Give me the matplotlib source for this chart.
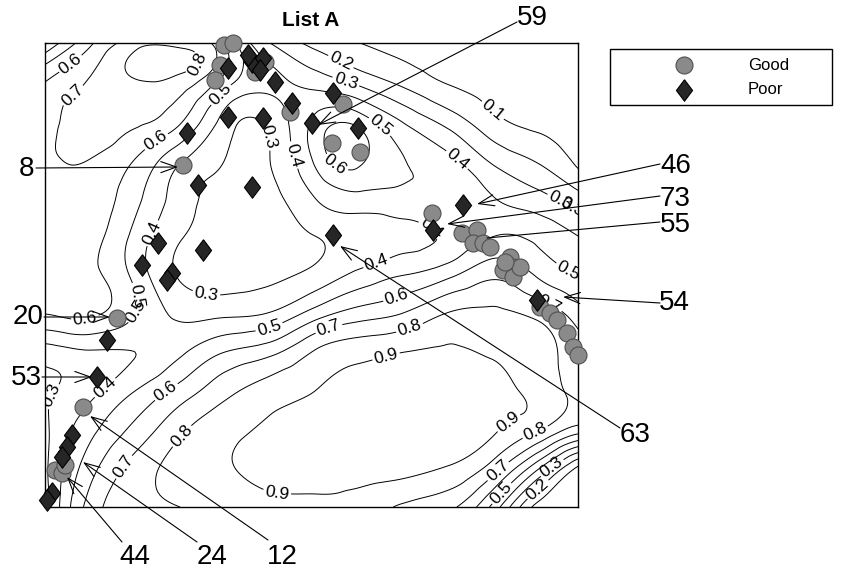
import numpy as np
import matplotlib
matplotlib.use("Agg")
import matplotlib.pyplot as plt
import matplotlib.tri as mtri
from matplotlib.patches import Rectangle

plt.rcParams['font.family'] = ['Liberation Sans', 'DejaVu Sans']

# ---------------- data (chart units; no axis ticks in original) ----------------
grid_x = [45, 90, 135, 180, 225, 270, 315, 360, 405, 450, 495, 540, 578]
grid_y = [43, 82, 120, 159, 198, 236, 275, 314, 352, 391, 430, 468, 507]
z_rows = [
    [0.30, 0.58, 0.76, 0.77, 0.60, 0.30, 0.17, 0.10, 0.07, 0.05, 0.04, 0.03, 0.02],
    [0.60, 0.71, 0.79, 0.76, 0.55, 0.42, 0.36, 0.27, 0.17, 0.09, 0.06, 0.04, 0.03],
    [0.64, 0.75, 0.72, 0.62, 0.36, 0.33, 0.52, 0.55, 0.38, 0.25, 0.12, 0.07, 0.04],
    [0.66, 0.70, 0.60, 0.42, 0.30, 0.30, 0.52, 0.62, 0.50, 0.42, 0.27, 0.18, 0.07],
    [0.65, 0.66, 0.53, 0.35, 0.26, 0.27, 0.40, 0.47, 0.47, 0.48, 0.40, 0.33, 0.24],
    [0.63, 0.64, 0.47, 0.31, 0.24, 0.25, 0.30, 0.33, 0.37, 0.42, 0.50, 0.47, 0.40],
    [0.62, 0.63, 0.47, 0.29, 0.26, 0.28, 0.33, 0.43, 0.50, 0.58, 0.68, 0.58, 0.50],
    [0.60, 0.62, 0.50, 0.38, 0.38, 0.41, 0.55, 0.65, 0.71, 0.81, 0.82, 0.77, 0.65],
    [0.35, 0.39, 0.40, 0.48, 0.60, 0.67, 0.81, 0.87, 0.90, 0.91, 0.89, 0.84, 0.74],
    [0.29, 0.37, 0.50, 0.64, 0.77, 0.85, 0.90, 0.93, 0.96, 0.95, 0.93, 0.86, 0.77],
    [0.28, 0.47, 0.63, 0.78, 0.87, 0.92, 0.96, 0.97, 0.97, 0.97, 0.91, 0.80, 0.65],
    [0.28, 0.56, 0.74, 0.84, 0.89, 0.93, 0.94, 0.94, 0.93, 0.89, 0.74, 0.40, 0.08],
    [0.25, 0.64, 0.77, 0.80, 0.84, 0.87, 0.88, 0.86, 0.78, 0.72, 0.45, 0.05, 0.02],
]
extra_x = [150, 185, 125, 160, 207, 70, 345]
extra_y = [62, 62, 66, 88, 62, 145, 150]
extra_z = [0.86, 0.83, 0.80, 0.77, 0.76, 0.73, 0.66]
levels = [0.1, 0.2, 0.3, 0.4, 0.5, 0.6, 0.7, 0.8, 0.9]

good_x = [224, 233, 220, 215, 255, 265, 290, 343, 332, 360, 183, 432,
          462, 477, 473, 483, 490, 510, 513, 503, 513, 520, 505,
          540, 550, 557, 567, 573, 578, 117, 83, 55, 62, 65]
good_y = [45, 43, 65, 80, 72, 62, 112, 104, 143, 152, 165, 213,
          233, 230, 243, 243, 247, 257, 267, 270, 277, 267, 262,
          307, 313, 320, 333, 347, 355, 318, 407, 470, 473, 465]

poor_x = [228, 252, 263, 260, 275, 248, 292, 333, 312, 358, 228, 263, 187,
          198, 252, 158, 203, 142, 172, 167, 107, 97, 463, 433, 333, 537,
          72, 67, 62, 52, 47]
poor_y = [68, 62, 58, 70, 82, 55, 103, 93, 123, 128, 117, 118, 133,
          185, 187, 243, 250, 265, 273, 280, 340, 377, 205, 230, 235, 300,
          435, 447, 457, 493, 500]

callout_ids = ["59", "8", "46", "73", "55", "54", "63", "20", "53", "44", "24", "12"]
callout_tx = [532, 26, 676, 675, 675, 674, 635, 28, 26, 135, 212, 282]
callout_ty = [18, 169, 166, 199, 225, 303, 435, 317, 378, 557, 557, 557]
line_sx = [517, 36, 660, 660, 660, 660, 620, 44, 42, 122, 197, 268]
line_sy = [22, 168, 164, 196, 222, 303, 428, 317, 377, 542, 542, 540]
arrow_x = [318, 178, 477, 447, 487, 563, 340, 110, 92, 67, 83, 90]
arrow_y = [125, 167, 204, 224, 238, 297, 246, 317, 377, 477, 462, 416]
arrow_head = [True, True, True, True, False, True, True, True, True, True, True, True]

label_pos = [(70, 63), (70, 92), (195, 62), (218, 92), (153, 137), (150, 232),
             (267, 137), (287, 157), (343, 57), (347, 78), (493, 110), (377, 130),
             (335, 165), (463, 153), (447, 200), (563, 195), (566, 214),
             (567, 273), (553, 297), (143, 295), (143, 313), (205, 303),
             (85, 318), (268, 323), (375, 258), (395, 292), (330, 332),
             (408, 323), (387, 360), (508, 422), (533, 427), (277, 493),
             (107, 390), (53, 397), (167, 393), (183, 437), (118, 463),
             (70, 462), (497, 470), (500, 492), (550, 465), (540, 492)]

# ---------------- figure ----------------
W, H = 846, 573
fig = plt.figure(figsize=(W / 100, H / 100), dpi=100)
ax = fig.add_axes([45 / W, (H - 507) / H, (578 - 45) / W, (507 - 43) / H])
ax.set_xlim(45, 578)
ax.set_ylim(507, 43)
ax.set_xticks([])
ax.set_yticks([])
for s in ax.spines.values():
    s.set_linewidth(1.0)

gx, gy = np.meshgrid(grid_x, grid_y)
px = np.concatenate([gx.ravel(), extra_x])
py = np.concatenate([gy.ravel(), extra_y])
pz = np.concatenate([np.array(z_rows).ravel(), extra_z])
tri = mtri.Triangulation(px, py)
refiner = mtri.UniformTriRefiner(tri)
interp = mtri.CubicTriInterpolator(tri, pz, kind='min_E')
tri_f, z_f = refiner.refine_field(pz, triinterpolator=interp, subdiv=4)
cs = ax.tricontour(tri_f, z_f, levels=levels, colors='black', linewidths=0.7)
ax.clabel(cs, inline=True, fontsize=12.5, fmt='%.1f', manual=label_pos, inline_spacing=2)

ax.scatter(good_x, good_y, s=150, marker='o', facecolor='#8a8a8a', edgecolor='#505050',
           linewidth=0.8, zorder=5, clip_on=False)
diamond = [(0, 1), (0.75, 0), (0, -1), (-0.75, 0), (0, 1)]
ax.scatter(poor_x, poor_y, s=240, marker=diamond, facecolor='#262626', edgecolor='black',
           linewidth=0.8, zorder=6, clip_on=False)

for lab, tx, ty, sx, sy, ex, ey, hd in zip(callout_ids, callout_tx, callout_ty, line_sx,
                                            line_sy, arrow_x, arrow_y, arrow_head):
    ax.text(tx, ty, lab, fontsize=20, ha='center', va='center', clip_on=False)
    style = '->,head_length=0.7,head_width=0.25' if hd else '-'
    ax.annotate('', xy=(ex, ey), xytext=(sx, sy),
                arrowprops=dict(arrowstyle=style, lw=0.8, color='black',
                                shrinkA=0, shrinkB=0, mutation_scale=16),
                annotation_clip=False, zorder=7)

fig.text(311 / W, 1 - 20 / H, 'List A', ha='center', va='center', fontsize=15,
         fontweight='bold')

# legend
ax.add_patch(Rectangle((610, 49), 222, 56, fill=False, edgecolor='black', lw=1.0,
                       clip_on=False))
ax.scatter([684], [65], s=150, marker='o', facecolor='#8a8a8a', edgecolor='#505050',
           linewidth=0.8, clip_on=False)
ax.scatter([684], [90], s=240, marker=diamond, facecolor='#262626', edgecolor='black',
           linewidth=0.8, clip_on=False)
ax.text(748, 65, 'Good', fontsize=12, va='center', ha='left', clip_on=False)
ax.text(748, 90, 'Poor', fontsize=12, va='center', ha='left', clip_on=False)

fig.savefig('out.png', dpi=100)
